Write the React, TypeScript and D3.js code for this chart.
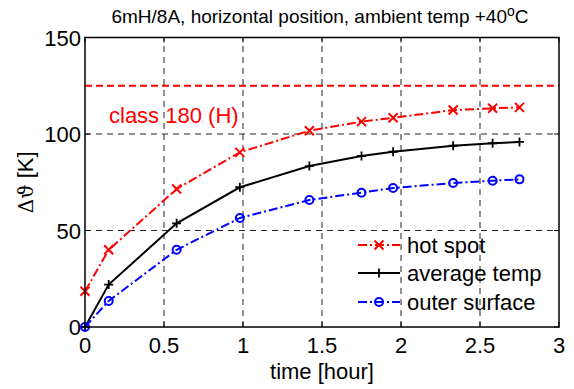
import React from "react";
import * as d3 from "d3";

const timeHours = [0, 0.15, 0.58, 0.98, 1.42, 1.75, 1.95, 2.33, 2.58, 2.75];
const hotSpot = [18.5, 40, 71.5, 90.5, 101.7, 106.4, 108.4, 112.4, 113.3, 113.8];
const averageTemp = [0, 22, 53.7, 72.4, 83.4, 88.6, 90.8, 93.9, 95.2, 95.9];
const outerSurface = [0, 13.5, 40, 56.5, 65.8, 69.6, 72.0, 74.6, 75.8, 76.5];
const classLimit = 125;
const xTicks = [0, 0.5, 1, 1.5, 2, 2.5, 3];
const yTicks = [0, 50, 100, 150];
const xTickLabels = ["0", "0.5", "1", "1.5", "2", "2.5", "3"];
const yTickLabels = ["0", "50", "100", "150"];
const seriesNames = ["hot spot", "average temp", "outer surface"];

const W = 574, H = 389;
const L = 85, R = 559, T = 37.5, B = 327;
const FONT = "Arial, 'Liberation Sans', Helvetica, sans-serif";

export default function App() {
  const x = d3.scaleLinear().domain([0, 3]).range([L, R]);
  const y = d3.scaleLinear().domain([0, 150]).range([B, T]);
  const line = d3.line<[number, number]>().x(d => x(d[0])).y(d => y(d[1]));
  const pts = (vals: number[]) => timeHours.map((t, i) => [t, vals[i]] as [number, number]);

  const dashDot = "9,3,2,3";
  const series = [
    { name: seriesNames[0], vals: hotSpot, color: "#ff0000", dash: dashDot, marker: "x" },
    { name: seriesNames[1], vals: averageTemp, color: "#000000", dash: "none", marker: "+" },
    { name: seriesNames[2], vals: outerSurface, color: "#0000ff", dash: dashDot, marker: "o" },
  ];

  const marker = (m: string, cx: number, cy: number, color: string, key: string | number) => {
    if (m === "x") {
      const s = 4.5;
      return (
        <path key={key} d={`M${cx - s},${cy - s}L${cx + s},${cy + s}M${cx - s},${cy + s}L${cx + s},${cy - s}`}
          stroke={color} strokeWidth={2} fill="none" />
      );
    }
    if (m === "+") {
      const s = 4.5;
      return (
        <path key={key} d={`M${cx - s},${cy}L${cx + s},${cy}M${cx},${cy - s}L${cx},${cy + s}`}
          stroke={color} strokeWidth={1.8} fill="none" />
      );
    }
    return <circle key={key} cx={cx} cy={cy} r={4} stroke={color} strokeWidth={2} fill="none" />;
  };

  const legX1 = 358, legX2 = 400, legTextX = 407;
  const legY = [245, 273, 302];

  return (
    <svg width={W} height={H} style={{ position: "absolute", left: 0, top: 0, background: "#fff" }}
      fontFamily={FONT}>
      <rect x={0} y={0} width={W} height={H} fill="#fff" />
      {/* grid */}
      {xTicks.slice(1, -1).map((t, i) => (
        <line key={"gx" + i} x1={x(t)} x2={x(t)} y1={B} y2={T} stroke="#222" strokeWidth={1} strokeDasharray="6,5" />
      ))}
      {yTicks.slice(1, -1).map((t, i) => (
        <line key={"gy" + i} x1={L} x2={R} y1={y(t)} y2={y(t)} stroke="#222" strokeWidth={1} strokeDasharray="6,5" />
      ))}
      {/* class limit */}
      <line x1={L} x2={R} y1={y(classLimit)} y2={y(classLimit)} stroke="#ff0000" strokeWidth={2} strokeDasharray="7,4" />
      <text x={109} y={123} fontSize={22} fill="#ff0000">class 180 (H)</text>
      {/* series */}
      {series.map((s, si) => (
        <g key={si}>
          <path d={line(pts(s.vals)) || ""} fill="none" stroke={s.color} strokeWidth={2}
            strokeDasharray={s.dash} />
          {pts(s.vals).map((p, i) => marker(s.marker, x(p[0]), y(p[1]), s.color, i))}
        </g>
      ))}
      {/* axes box */}
      <rect x={L} y={T} width={R - L} height={B - T} fill="none" stroke="#000" strokeWidth={1.5} />
      {xTicks.map((t, i) => (
        <g key={"xt" + i}>
          <line x1={x(t)} x2={x(t)} y1={B} y2={B - 5} stroke="#000" strokeWidth={1} />
          <line x1={x(t)} x2={x(t)} y1={T} y2={T + 5} stroke="#000" strokeWidth={1} />
          <text x={x(t)} y={353} fontSize={22} textAnchor="middle">{xTickLabels[i]}</text>
        </g>
      ))}
      {yTicks.map((t, i) => (
        <g key={"yt" + i}>
          <line x1={L} x2={L + 5} y1={y(t)} y2={y(t)} stroke="#000" strokeWidth={1} />
          <line x1={R} x2={R - 5} y1={y(t)} y2={y(t)} stroke="#000" strokeWidth={1} />
          <text x={81} y={y(t) + 8} fontSize={22} textAnchor="end">{yTickLabels[i]}</text>
        </g>
      ))}
      {/* labels */}
      <text x={(L + R) / 2} y={379} fontSize={22} textAnchor="middle">time [hour]</text>
      <text transform={`translate(33,${(T + B) / 2}) rotate(-90)`} fontSize={22} textAnchor="middle">
        <tspan fontFamily="'DejaVu Serif', 'Liberation Serif', serif" fontSize={20}>Δϑ</tspan> [K]
      </text>
      <text x={320} y={23} fontSize={19} textAnchor="middle">
        6mH/8A, horizontal position, ambient temp +40<tspan dy={-7} fontSize={14}>o</tspan><tspan dy={7}>C</tspan>
      </text>
      {/* legend */}
      {series.map((s, i) => (
        <g key={"lg" + i}>
          <line x1={legX1} x2={legX2} y1={legY[i]} y2={legY[i]} stroke={s.color} strokeWidth={2} strokeDasharray={s.dash} />
          {marker(s.marker, (legX1 + legX2) / 2, legY[i], s.color, "m")}
          <text x={legTextX} y={legY[i] + 8} fontSize={22}>{s.name}</text>
        </g>
      ))}
    </svg>
  );
}
